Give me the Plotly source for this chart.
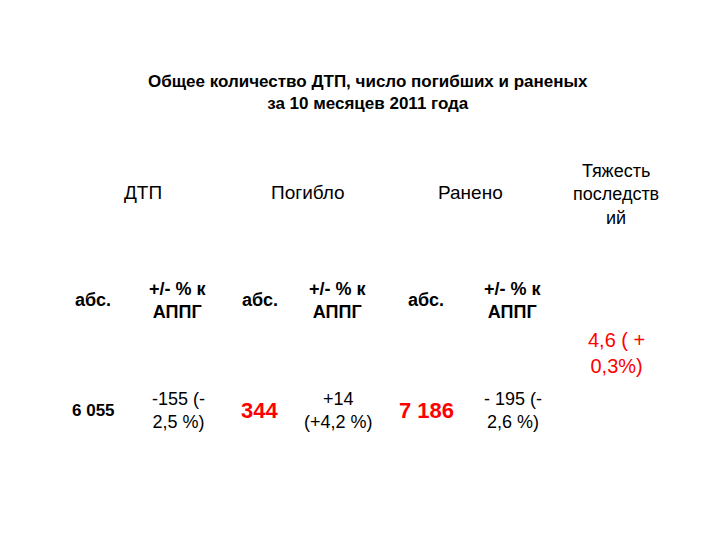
import plotly.graph_objects as go

title = "<b>Общее количество ДТП, число погибших и раненых<br>за 10 месяцев 2011 года</b>"
groups = ["ДТП", "Погибло", "Ранено"]
sub_abs = "абс."
sub_diff = "+/- % к<br>АППГ"
abs_values = ["6 055", "344", "7 186"]
diff_values = ["-155 (-<br>2,5 %)", "+14<br>(+4,2 %)", "- 195 (-<br>2,6 %)"]
severity_label = "Тяжесть<br>последств<br>ий"
severity_value = "4,6 ( +<br>0,3%)"

W, H = 720, 540
def px(x, y):
    return x / W, 1 - y / H

fig = go.Figure()
anns = []
def add(text, x, y, size=17, color="black"):
    xx, yy = px(x, y)
    anns.append(dict(text=text, x=xx, y=yy, xref="paper", yref="paper",
                     xanchor="center", yanchor="middle",
                     showarrow=False, align="center",
                     font=dict(family="Liberation Sans, Arial", size=size, color=color)))

add(title, 360, 84, 17)
group_x = [135, 300, 462]
abs_x = [85, 252, 418]
diff_x = [170, 330, 505]
for i, g in enumerate(groups):
    add(g, group_x[i], 185, 19)
    add("<b>" + sub_abs + "</b>", abs_x[i], 292, 18)
    add("<b>" + sub_diff + "</b>", diff_x[i], 292, 18)
    if i == 0:
        add("<b>" + abs_values[i] + "</b>", abs_x[i], 402, 17)
    else:
        add("<b>" + abs_values[i] + "</b>", abs_x[i], 402, 22, "red")
    add(diff_values[i], diff_x[i], 402, 18)
add(severity_label, 608, 186, 18)
add(severity_value, 608, 345, 20, "red")

fig.update_layout(width=W, height=H, margin=dict(l=0, r=0, t=0, b=0),
                  paper_bgcolor="white", plot_bgcolor="white",
                  xaxis=dict(visible=False), yaxis=dict(visible=False),
                  annotations=anns)
fig.write_html("out.html")
